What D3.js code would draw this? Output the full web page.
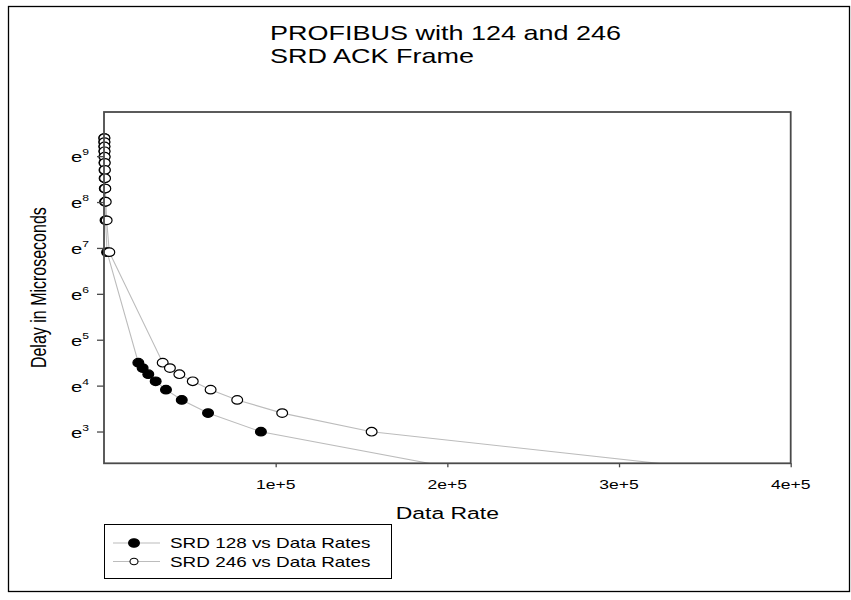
<!DOCTYPE html>
<html>
<head>
<meta charset="utf-8">
<script src="https://cdn.jsdelivr.net/npm/d3@7/dist/d3.min.js"></script>
<style>
  html, body { margin: 0; padding: 0; background: #fff; }
  svg { display: block; }
  text { font-family: "Liberation Sans", Arial, Helvetica, sans-serif; fill: #000; }
</style>
</head>
<body>
<svg id="chart" width="851" height="600"></svg>
<script>
// Delay values shared by both series (microseconds)
const delays = [12000, 11000, 10000, 9000, 8000, 7000, 6000, 5000, 4000, 3000, 2000, 1000,
                90, 80, 70, 60, 50, 40, 30, 20, 10];
// Data rate for each delay, SRD 128 frame
const srd128Rates = [150, 165, 180, 200, 230, 260, 300, 360, 450, 600, 900, 1800,
                     20000, 22500, 25800, 30100, 36100, 45300, 60600, 91400, 190000];
// Data rate for each delay, SRD 246 frame
const srd246Rates = [260, 280, 310, 345, 390, 440, 520, 620, 780, 1030, 1550, 3100,
                     34200, 38400, 43900, 51700, 62100, 77600, 103800, 155900, 324000];

const seriesNames = ["SRD 128 vs Data Rates", "SRD 246 vs Data Rates"];
const xTickValues = [100000, 200000, 300000, 400000];
const xTickLabels = ["1e+5", "2e+5", "3e+5", "4e+5"];
const yTickPowers = [3, 4, 5, 6, 7, 8, 9];
const titleLines = ["PROFIBUS with 124 and 246", "SRD ACK Frame"];

const SX = 1.35; // horizontal text stretch
const svg = d3.select("#chart");

const plot = { left: 104, right: 790.7, top: 112, bottom: 463.3 };

const x = d3.scaleLinear().domain([0, 400000]).range([plot.left, plot.right]);
const y = d3.scaleLog().domain([10.05, 21200]).range([plot.bottom, plot.top]);

// outer frame
svg.append("rect")
  .attr("x", 8.5).attr("y", 6.5).attr("width", 841).attr("height", 585)
  .attr("fill", "none").attr("stroke", "#000").attr("stroke-width", 1.3);

function stretchedText(px, py, str, size, anchor, rotate) {
  const g = svg.append("g")
    .attr("transform", `translate(${px},${py}) scale(${SX},1)` + (rotate ? " rotate(-90)" : ""));
  return g.append("text")
    .attr("font-size", size)
    .attr("text-anchor", anchor)
    .text(str);
}

// title
titleLines.forEach((t, i) => stretchedText(270, 40 + i * 23, t, 20, "start"));

// clip for series
svg.append("clipPath").attr("id", "plotClip")
  .append("rect")
  .attr("x", plot.left).attr("y", plot.top)
  .attr("width", plot.right - plot.left).attr("height", plot.bottom - plot.top);

const line = d3.line().x(d => x(d[0])).y(d => y(d[1]));
const series = [
  { rates: srd128Rates, filled: true },
  { rates: srd246Rates, filled: false }
];

const layer = svg.append("g").attr("clip-path", "url(#plotClip)");
series.forEach(s => {
  const pts = s.rates.map((r, i) => [r, delays[i]]);
  layer.append("path")
    .attr("d", line(pts))
    .attr("fill", "none")
    .attr("stroke", "#bcbcbc")
    .attr("stroke-width", 1.1);
});
series.forEach(s => {
  const pts = s.rates.map((r, i) => [r, delays[i]]).filter(d => d[1] >= y.domain()[0]);
  svg.append("g").selectAll("ellipse").data(pts).join("ellipse")
    .attr("cx", d => x(d[0]))
    .attr("cy", d => y(d[1]))
    .attr("rx", 5.4).attr("ry", 4.3)
    .attr("fill", s.filled ? "#000" : "#fff")
    .attr("stroke", "#000")
    .attr("stroke-width", 1.2);
});

// axes box
const axisColor = "#4a4a4a";
svg.append("rect")
  .attr("x", plot.left).attr("y", plot.top)
  .attr("width", plot.right - plot.left).attr("height", plot.bottom - plot.top)
  .attr("fill", "none").attr("stroke", axisColor).attr("stroke-width", 1.8);

// x axis
const xAxis = d3.axisBottom(x).tickValues(xTickValues).tickSize(4).tickFormat("");
const gx = svg.append("g").attr("transform", `translate(0,${plot.bottom})`).call(xAxis);
gx.select(".domain").remove();
gx.selectAll(".tick line").attr("stroke", axisColor).attr("stroke-width", 1.3);
xTickValues.forEach((v, i) => stretchedText(x(v), 489, xTickLabels[i], 13, "middle"));

// y axis
const yAxis = d3.axisLeft(y).tickValues(yTickPowers.map(p => Math.exp(p))).tickSize(7).tickFormat("");
const gy = svg.append("g").attr("transform", `translate(${plot.left},0)`).call(yAxis);
gy.select(".domain").remove();
gy.selectAll(".tick line").attr("stroke", axisColor).attr("stroke-width", 1.3);
yTickPowers.forEach(p => {
  const ty = y(Math.exp(p));
  const g = svg.append("g").attr("transform", `translate(89,${ty + 6}) scale(${SX},1)`);
  const t = g.append("text").attr("font-size", 15).attr("text-anchor", "end");
  t.append("tspan").text("e");
  t.append("tspan").attr("font-size", 9).attr("dy", -7).text(p);
});

// axis titles
stretchedText((plot.left + plot.right) / 2, 519, "Data Rate", 17, "middle");
stretchedText(46, (plot.top + plot.bottom) / 2, "Delay in Microseconds", 16, "middle", true);

// legend
const lg = svg.append("g");
lg.append("rect")
  .attr("x", 104.5).attr("y", 524.5).attr("width", 287).attr("height", 54)
  .attr("fill", "#fff").attr("stroke", "#000").attr("stroke-width", 1);
seriesNames.forEach((name, i) => {
  const ly = 543 + i * 18.5;
  lg.append("line")
    .attr("x1", 113).attr("x2", 160).attr("y1", ly).attr("y2", ly)
    .attr("stroke", "#bcbcbc").attr("stroke-width", 1.1);
  lg.append("ellipse")
    .attr("cx", 134).attr("cy", ly)
    .attr("rx", i === 0 ? 5.4 : 4).attr("ry", i === 0 ? 4.3 : 3.3)
    .attr("fill", i === 0 ? "#000" : "#fff")
    .attr("stroke", "#000").attr("stroke-width", 1.1);
  stretchedText(170, ly + 5, name, 14, "start");
});
</script>
</body>
</html>
